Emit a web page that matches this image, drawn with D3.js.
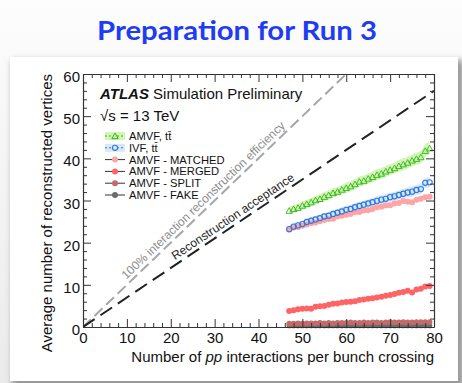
<!DOCTYPE html>
<html>
<head>
<meta charset="utf-8">
<script src="https://cdn.jsdelivr.net/npm/d3@7"></script>
<style>
  body { margin: 0; background: #f3f3f3; }
  svg { display: block; }
</style>
</head>
<body>
<svg></svg>
<script>
// pile-up values, x = number of pp interactions
var mu = [47, 48, 49, 50, 51, 52, 53, 54, 55, 56, 57, 58, 59, 60, 61, 62, 63,
    64, 65, 66, 67, 68, 69, 70, 71, 72, 73, 74, 75, 76, 77, 78, 79];

var amvfTT = [27.6, 28.0, 28.3, 28.8, 29.2, 29.6, 30.1, 30.4, 30.9, 31.3, 31.8, 32.1, 32.6, 33.0, 33.4, 33.9, 34.5,
    34.7, 35.2, 35.6, 36.1, 36.4, 36.9, 37.3, 37.7, 38.2, 38.6, 39.0, 39.5, 39.9, 40.3, 41.8, 42.4];
var amvfErr = [0.9, 0.9, 0.9, 1.0, 1.0, 1.0, 1.0, 1.0, 1.1, 1.1, 1.1, 1.1, 1.1, 1.2, 1.2, 1.2, 1.2,
    1.2, 1.2, 1.3, 1.3, 1.3, 1.3, 1.3, 1.3, 1.4, 1.4, 1.4, 1.4, 1.4, 1.5, 1.5, 1.5];

var ivfTT = [23.2, 23.8, 24.1, 24.4, 24.9, 25.2, 25.5, 25.8, 26.2, 26.4, 26.8, 27.1, 27.4, 27.8, 28.0, 28.4, 28.7,
    29.0, 29.3, 29.6, 29.9, 30.2, 30.4, 30.8, 31.0, 31.3, 31.6, 31.9, 32.1, 32.5, 32.7, 34.2, 34.3];
var ivfErr = [0.8, 0.8, 0.8, 0.8, 0.8, 0.9, 0.9, 0.9, 0.9, 0.9, 0.9, 0.9, 1.0, 1.0, 1.0, 1.0, 1.0,
    1.0, 1.0, 1.0, 1.1, 1.1, 1.1, 1.1, 1.1, 1.1, 1.1, 1.2, 1.2, 1.2, 1.2, 1.2, 1.2];

var matched = [23.1, 23.6, 23.7, 24.0, 24.3, 24.6, 24.8, 25.1, 25.4, 25.6, 25.7, 26.2, 26.4, 26.6, 26.8, 27.2, 27.3,
    27.6, 27.7, 28.0, 28.4, 28.5, 28.8, 28.9, 29.3, 29.4, 29.9, 29.7, 29.6, 30.2, 30.4, 30.8, 30.9];
var merged = [3.8, 4.0, 4.2, 4.3, 4.4, 4.3, 4.8, 4.9, 5.0, 5.3, 5.5, 5.6, 5.8, 5.9, 6.0, 6.1, 6.4,
    6.5, 6.7, 6.8, 7.0, 7.2, 7.4, 7.6, 7.8, 8.1, 8.3, 8.6, 8.2, 8.9, 9.1, 9.6, 9.7];
var split = [0.8, 0.8, 0.9, 0.8, 0.9, 0.9, 0.9, 1.0, 0.9, 1.0, 0.9, 1.0, 1.0, 1.0, 1.1, 1.0, 1.0,
    1.1, 1.0, 1.1, 1.1, 1.0, 1.1, 1.2, 1.1, 1.1, 1.2, 1.1, 1.1, 1.2, 1.2, 1.2, 1.2];
var fake = [0.3, 0.3, 0.3, 0.3, 0.3, 0.3, 0.3, 0.3, 0.3, 0.3, 0.3, 0.3, 0.3, 0.3, 0.3, 0.3, 0.3,
    0.3, 0.3, 0.3, 0.3, 0.3, 0.3, 0.3, 0.3, 0.3, 0.3, 0.3, 0.3, 0.3, 0.3, 0.3, 0.3];

var legendNames = ["AMVF, t\u0074\u0304", "IVF, t\u0074\u0304", "AMVF - MATCHED", "AMVF - MERGED", "AMVF - SPLIT", "AMVF - FAKE"];

// reference lines: slope of y vs mu
var effSlope = 1.0;
var accSlope = 0.7;

const svgWidth = 462, svgHeight = 383;
const font = "Liberation Sans, Arial, sans-serif";

var svg = d3.select("svg")
    .attr("width", svgWidth)
    .attr("height", svgHeight);

var defs = svg.append("defs");
var bg = defs.append("linearGradient").attr("id", "bg").attr("x1", 0).attr("x2", 0).attr("y1", 0).attr("y2", 1);
bg.append("stop").attr("offset", "0").attr("stop-color", "#fdfdfd");
bg.append("stop").attr("offset", "1").attr("stop-color", "#ebebeb");
var blur = defs.append("filter").attr("id", "shadow").attr("x", "-5%").attr("y", "-5%").attr("width", "110%").attr("height", "115%");
blur.append("feGaussianBlur").attr("stdDeviation", 3);

svg.append("rect").attr("width", svgWidth).attr("height", svgHeight).attr("fill", "url(#bg)");

// panel with a shadow
svg.append("rect")
    .attr("x", 12).attr("y", 60).attr("width", 452).attr("height", 330)
    .attr("fill", "#9a9a9a")
    .attr("filter", "url(#shadow)");
svg.append("rect")
    .attr("x", 10).attr("y", 57).attr("width", 448).attr("height", 324)
    .attr("fill", "#ffffff");

// title
svg.append("text")
    .attr("x", 237).attr("y", 40)
    .attr("text-anchor", "middle")
    .attr("font-family", "Lato, sans-serif")
    .attr("font-weight", "bold")
    .attr("font-size", 27)
    .attr("fill", "#1f3cf2")
    .attr("textLength", 280)
    .attr("lengthAdjust", "spacingAndGlyphs")
    .text("Preparation for Run 3");

var x = d3.scaleLinear().domain([0, 80]).range([83, 434]);
var y = d3.scaleLinear().domain([0, 60]).range([327, 74]);

var g = svg.append("g");

var clip = defs.append("clipPath").attr("id", "plot");
clip.append("rect").attr("x", x(0)).attr("y", y(60)).attr("width", x(80) - x(0)).attr("height", y(0) - y(60));

// diagonal reference lines
var lines = g.append("g").attr("clip-path", "url(#plot)");
lines.append("line")
    .attr("x1", x(0)).attr("y1", y(0))
    .attr("x2", x(80)).attr("y2", y(80 * effSlope))
    .attr("stroke", "#a6a6a6").attr("stroke-width", 2)
    .attr("stroke-dasharray", "11,5");
lines.append("line")
    .attr("x1", x(0)).attr("y1", y(0))
    .attr("x2", x(80)).attr("y2", y(80 * accSlope))
    .attr("stroke", "#222").attr("stroke-width", 2)
    .attr("stroke-dasharray", "14,7");

function lineLabel(slope, at, off, txt, col, size) {
    var ang = Math.atan2(y(0) - y(slope * 10), x(10) - x(0)) * 180 / Math.PI;
    g.append("text")
        .attr("transform", "translate(" + x(at) + "," + y(at * slope) + ") rotate(" + (-ang) + ") translate(0," + (-off) + ")")
        .attr("font-family", font)
        .attr("font-size", size)
        .attr("fill", col)
        .text(txt);
}
lineLabel(effSlope, 10.5, 4, "100% interaction reconstruction efficiency", "#8c8c8c", 12);
lineLabel(accSlope, 21.5, 4, "Reconstruction acceptance", "#222", 12);

// uncertainty bands
function band(vals, errs, col) {
    var pts = mu.map((m, i) => [m, vals[i], errs[i]]);
    g.append("path")
        .datum(pts)
        .attr("fill", col)
        .attr("d", d3.area()
            .x(d => x(d[0]))
            .y0(d => y(d[1] - d[2]))
            .y1(d => y(d[1] + d[2]))
            .curve(d3.curveMonotoneX));
}
band(amvfTT, amvfErr, "#d2f5b4");
band(ivfTT, ivfErr, "#d6e8fa");

function dots(vals, col, r) {
    var pts = mu.map((m, i) => [m, vals[i]]);
    g.append("path").datum(pts)
        .attr("fill", "none").attr("stroke", col).attr("stroke-width", 1.5)
        .attr("d", d3.line().x(d => x(d[0])).y(d => y(d[1])));
    g.selectAll(null).data(pts).enter().append("circle")
        .attr("cx", d => x(d[0])).attr("cy", d => y(d[1]))
        .attr("r", r).attr("fill", col);
}
dots(fake, "#6b6b6b", 2.6);
dots(split, "#c46a6a", 2.8);
dots(merged, "#ff6464", 3.0);
dots(matched, "#ffa4a4", 3.0);

var tri = d3.symbol().type(d3.symbolTriangle).size(18);
g.selectAll(null).data(mu.map((m, i) => [m, amvfTT[i]])).enter().append("path")
    .attr("d", tri)
    .attr("transform", d => "translate(" + x(d[0]) + "," + (y(d[1]) + 0.8) + ")")
    .attr("fill", "none").attr("stroke", "#2fb41a").attr("stroke-width", 0.9);

g.selectAll(null).data(mu.map((m, i) => [m, ivfTT[i]])).enter().append("circle")
    .attr("cx", d => x(d[0])).attr("cy", d => y(d[1]))
    .attr("r", 2.6)
    .attr("fill", "none").attr("stroke", "#2f78e0").attr("stroke-width", 1.1);

// axes, ticks inside on all sides
var majorX = d3.range(0, 81, 10), minorX = d3.range(0, 81, 2).filter(v => v % 10);
var majorY = d3.range(0, 61, 10), minorY = d3.range(0, 61, 2).filter(v => v % 10);

function styleAxis(sel) {
    sel.selectAll(".domain").attr("stroke", "#333").attr("stroke-width", 1.2);
    sel.selectAll(".tick line").attr("stroke", "#333").attr("stroke-width", 1);
    sel.selectAll(".tick text").attr("font-family", font).attr("font-size", 15).attr("fill", "#111");
}

var axB = g.append("g").attr("transform", "translate(0," + y(0) + ")")
    .call(d3.axisBottom(x).tickValues(majorX).tickSize(-8).tickSizeOuter(0).tickPadding(5));
axB.append("g").call(d3.axisBottom(x).tickValues(minorX).tickSize(-4).tickFormat("")).select(".domain").remove();
styleAxis(axB);

var axT = g.append("g").attr("transform", "translate(0," + y(60) + ")")
    .call(d3.axisTop(x).tickValues(majorX).tickSize(-8).tickSizeOuter(0).tickFormat(""));
axT.append("g").call(d3.axisTop(x).tickValues(minorX).tickSize(-4).tickFormat("")).select(".domain").remove();
styleAxis(axT);

var axL = g.append("g").attr("transform", "translate(" + x(0) + ",0)")
    .call(d3.axisLeft(y).tickValues(majorY).tickSize(-8).tickSizeOuter(0).tickPadding(3));
axL.append("g").call(d3.axisLeft(y).tickValues(minorY).tickSize(-4).tickFormat("")).select(".domain").remove();
styleAxis(axL);
axL.selectAll(".tick text").attr("dy", "0.5em");

var axR = g.append("g").attr("transform", "translate(" + x(80) + ",0)")
    .call(d3.axisRight(y).tickValues(majorY).tickSize(-8).tickSizeOuter(0).tickFormat(""));
axR.append("g").call(d3.axisRight(y).tickValues(minorY).tickSize(-4).tickFormat("")).select(".domain").remove();
styleAxis(axR);

// axis titles
var xt = svg.append("text")
    .attr("x", x(80)).attr("y", 362)
    .attr("text-anchor", "end")
    .attr("font-family", font).attr("font-size", 15).attr("fill", "#111");
xt.append("tspan").text("Number of ");
xt.append("tspan").attr("font-style", "italic").text("pp");
xt.append("tspan").text(" interactions per bunch crossing");

svg.append("text")
    .attr("transform", "translate(52," + y(60) + ") rotate(-90)")
    .attr("text-anchor", "end")
    .attr("font-family", font).attr("font-size", 15).attr("fill", "#111")
    .text("Average number of reconstructed vertices");

// ATLAS label
var at = svg.append("text").attr("x", 100).attr("y", 99)
    .attr("font-family", font).attr("font-size", 15).attr("fill", "#111");
at.append("tspan").attr("font-weight", "bold").attr("font-style", "italic").text("ATLAS");
at.append("tspan").text(" Simulation Preliminary");
svg.append("text").attr("x", 100).attr("y", 121)
    .attr("font-family", font).attr("font-size", 15).attr("fill", "#111")
    .text("\u221As = 13 TeV");

// legend
var legY0 = 136, legDy = 11.8;
var leg = svg.append("g");
legendNames.forEach(function(name, i) {
    var ly = legY0 + i * legDy;
    if (i < 2) {
        leg.append("rect").attr("x", 105).attr("y", ly - 4).attr("width", 20).attr("height", 8)
            .attr("fill", i == 0 ? "#d2f5b4" : "#d6e8fa");
        leg.append("line").attr("x1", 105).attr("x2", 125).attr("y1", ly).attr("y2", ly)
            .attr("stroke", i == 0 ? "#2fb41a" : "#2f78e0").attr("stroke-width", 1)
            .attr("stroke-dasharray", "2,2");
        if (i == 0) {
            leg.append("path").attr("d", tri).attr("transform", "translate(115," + (ly + 0.8) + ")")
                .attr("fill", "#d2f5b4").attr("stroke", "#2fb41a");
        } else {
            leg.append("circle").attr("cx", 115).attr("cy", ly).attr("r", 2.6)
                .attr("fill", "#d6e8fa").attr("stroke", "#2f78e0").attr("stroke-width", 1.1);
        }
    } else {
        var cols = ["#ffa4a4", "#ff6464", "#c46a6a", "#6b6b6b"];
        leg.append("line").attr("x1", 105).attr("x2", 125).attr("y1", ly).attr("y2", ly)
            .attr("stroke", "#333").attr("stroke-width", 1);
        leg.append("circle").attr("cx", 115).attr("cy", ly).attr("r", 3).attr("fill", cols[i - 2]);
    }
    leg.append("text").attr("x", 129).attr("y", ly + 3.9)
        .attr("font-family", font).attr("font-size", 11.2).attr("fill", "#111")
        .text(name);
});
</script>
</body>
</html>
